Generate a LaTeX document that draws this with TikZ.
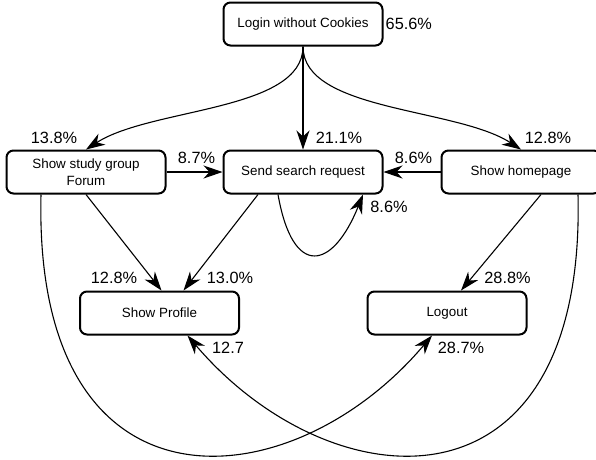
\documentclass[tikz,border=0pt]{standalone}
\usepackage{fontspec}
\setmainfont{Liberation Sans}
\usetikzlibrary{arrows.meta,positioning}

\begin{document}
\begin{tikzpicture}[
  x=1pt, y=-1pt,
  >={Stealth[length=19pt,width=13pt,inset=6pt]},
  page/.style={draw,rounded corners=7pt,line width=2pt,minimum width=159pt,
    minimum height=43pt,align=center,font=\fontsize{13.4}{17}\selectfont},
  flow/.style={->,line width=1.1pt},
  pct/.style={font=\fontsize{16.3}{18}\selectfont,inner sep=0pt}
]
  \useasboundingbox (0,0) rectangle (596,459);

  % pages
  \node[page,label={[pct,label distance=2pt]right:65.6\%}] (login) at (303,24) {Login without Cookies};
  \node[page,below=103pt of login] (send) {Send search request};
  \node[page,left=56pt of send] (forum) {Show study group\\Forum};
  \node[page,right=57pt of send] (home) {Show homepage};
  \node[page] (profile) at (159.5,313) {Show Profile};
  \node[page] (logout) at (447,313) {Logout};

  % transitions from the login page
  \draw[flow] (login.south) -- (send.north) node[pct,xshift=36pt,yshift=12pt] {21.1\%};
  \draw[flow] (login.south) .. controls +(0,65) and +(65,-42) .. (forum.north)
    node[pct,xshift=-32pt,yshift=12pt] {13.8\%};
  \draw[flow] (login.south) .. controls +(0,65) and +(-65,-42) .. (home.north)
    node[pct,xshift=27pt,yshift=12pt] {12.8\%};

  % middle row
  \draw[flow] (forum.east) -- (send.west) node[pct,xshift=-26pt,yshift=14pt] {8.7\%};
  \draw[flow] (home.west) -- (send.east) node[pct,xshift=30pt,yshift=14pt] {8.6\%};
  \draw[flow] ([xshift=-25pt]send.south) .. controls +(15,85) and +(-30,75) .. ([xshift=60pt]send.south)
    node[pct,xshift=26pt,yshift=-12pt] {8.6\%};

  % into profile and logout
  \draw[flow] (forum.south) -- ([xshift=2pt]profile.north)
    node[pct,xshift=-47.5pt,yshift=13pt] {12.8\%};
  \draw[flow] ([xshift=-45pt]send.south) -- ([xshift=24pt]profile.north)
    node[pct,xshift=46.5pt,yshift=13pt] {13.0\%};
  \draw[flow] ([xshift=20pt]home.south) -- ([xshift=14pt]logout.north)
    node[pct,xshift=46.5pt,yshift=13pt] {28.8\%};

  % long arcs underneath
  \draw[flow] ([xshift=-45pt]forum.south) .. controls +(-8,330) and +(-142,168) .. ([xshift=-15pt]logout.south)
    node[pct,xshift=29pt,yshift=-12.5pt] {28.7\%};
  \draw[flow] ([xshift=57pt]home.south) .. controls +(8,330) and +(143,168) .. ([xshift=28pt]profile.south)
    node[pct,xshift=40.5pt,yshift=-12.5pt] {12.7};
\end{tikzpicture}
\end{document}
